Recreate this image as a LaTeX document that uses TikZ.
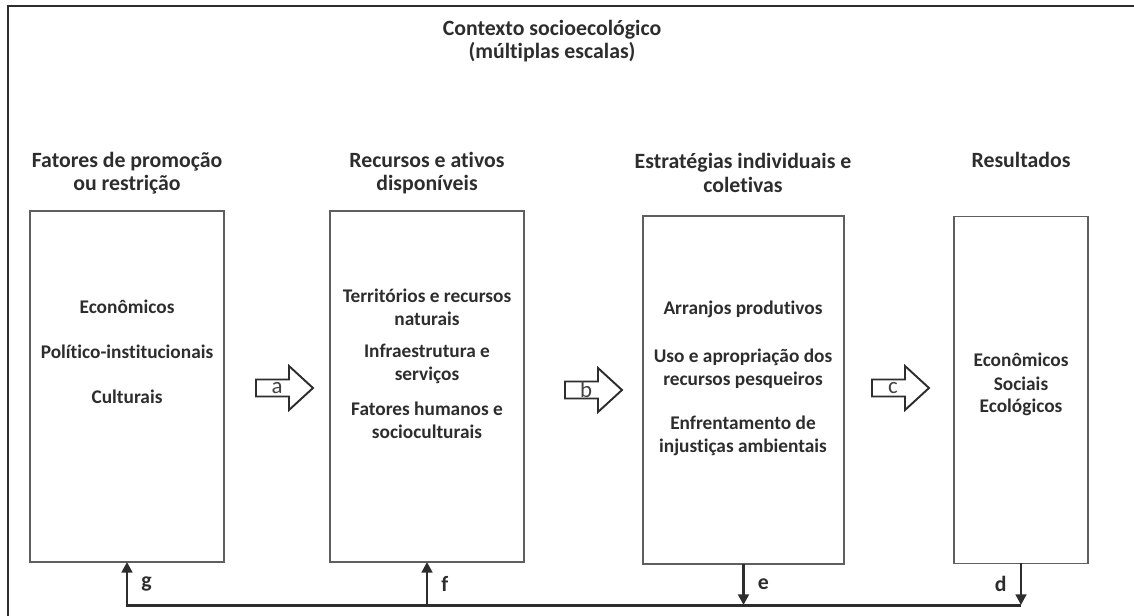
\documentclass[tikz,border=0pt]{standalone}
\usepackage{fontspec}
\setmainfont{Carlito}[Ligatures=NoCommon]
\usetikzlibrary{arrows.meta}
\definecolor{ink}{RGB}{45,45,45}
\definecolor{boxline}{RGB}{95,95,95}
\begin{document}
\begin{tikzpicture}[x=0.02cm, y=-0.02cm,
		every node/.style={text=ink, font=\fontsize{11}{13.2}\selectfont\bfseries, align=center},
		heading/.style={font=\fontsize{12.4}{13.2}\selectfont\bfseries},
		box/.style={draw=boxline, line width=0.8pt, inner sep=0pt, outer sep=0pt},
		blockarrow/.style={draw=ink, line width=1.1pt, fill=white, line join=miter},
		tag/.style={font=\fontsize{13}{13}\selectfont, text=ink!90},
		feedback/.style={draw=ink, line width=1.7pt, -{Triangle[length=6pt,width=6pt]}}]
		\useasboundingbox (0,0) rectangle (1134,616);
		% outer frame (open to the right and bottom)
		\draw[ink, line width=1.1pt] (8,616) -- (8,6) -- (1134,6);
		\node[heading] (title) at (552,41) {Contexto socioecológico\\(múltiplas escalas)};
		% column headers
		\node[heading] (h1) at (127,173) {Fatores de promoção\\ou restrição};
		\node[heading] (h2) at (427,173) {Recursos e ativos\\disponíveis};
		\node[heading] (h3) at (743,173) {Estratégias individuais e\\coletivas};
		\node[heading] (h4) at (1021,160) {Resultados};
		% boxes
		\node[box, minimum width=3.88cm, minimum height=7.02cm] (b1) at (127,386.5) {};
		\node[box, minimum width=3.88cm, minimum height=7.02cm] (b2) at (427,386.5) {};
		\node[box, minimum width=4.02cm, minimum height=6.96cm] (b3) at (743.5,390) {};
		\node[box, minimum width=2.68cm, minimum height=6.94cm] (b4) at (1021,390) {};
		% box contents
		\node (econ1) at (127,307) {Econômicos};
		\node (polit) at (127,352) {Político-institucionais};
		\node (cult) at (127,397) {Culturais};
		\node (terr) at (427,307) {Territórios e recursos\\naturais};
		\node (infra) at (427,363.5) {Infraestrutura e\\serviços};
		\node (human) at (427,420) {Fatores humanos e\\socioculturais};
		\node (arranj) at (743,309) {Arranjos produtivos};
		\node (uso) at (743,369) {Uso e apropriação dos\\recursos pesqueiros};
		\node (enfr) at (743,436) {Enfrentamento de\\injustiças ambientais};
		\node (econ4) at (1021,360) {Econômicos};
		\node (soc) at (1021,383.5) {Sociais};
		\node (eco) at (1021,407) {Ecológicos};
		% block arrows between the boxes
		\foreach \name/\px/\py in {a/277/388, b/586/390, c/893/388} {
			\draw[blockarrow, shift={(\px,\py)}] (-21,-8.5) -- (12,-8.5) -- (12,-22) -- (36,0) -- (12,22) -- (12,8.5) -- (-21,8.5) -- cycle;
			\node[tag] (\name) at (\px,\py) {\name};
		}
		% feedback line
		\coordinate (g) at (b1.south |- 0,605);
		\coordinate (f) at (b2.south |- 0,605);
		\coordinate (e) at (b3.south |- 0,605);
		\coordinate (d) at (b4.south |- 0,605);
		\draw[feedback] (b4.south) -- node[heading, left=4pt] (ld) {d} (d);
		\draw[feedback] (b3.south) -- node[heading, right=4pt] (le) {e} (e);
		\draw[feedback, line join=miter] (d) -- (g) -- node[heading, right=4pt] (lg) {g} (b1.south);
		\draw[feedback] (f) -- node[heading, right=4pt] (lf) {f} (b2.south);
	\end{tikzpicture}
\end{document}
